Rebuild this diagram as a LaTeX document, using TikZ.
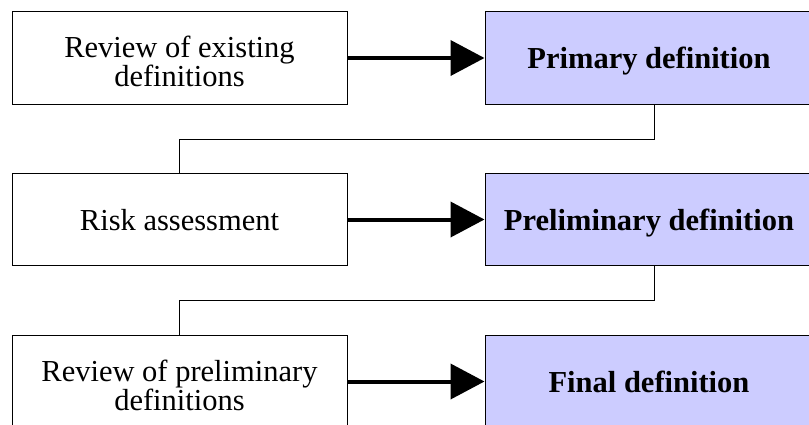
\documentclass[tikz,border=0pt]{standalone}
\usepackage{fontspec}
\setmainfont{Liberation Serif}
\usetikzlibrary{arrows.meta,calc}
\definecolor{boxblue}{HTML}{CCCCFF}
\begin{document}
\begin{tikzpicture}[x=1pt,y=-1pt,
  every node/.style={font=\fontsize{30.5}{29}\selectfont, inner sep=0pt},
  leftbox/.style={draw=black, line width=1pt, fill=white, minimum width=335pt, minimum height=92.5pt, align=center},
  rightbox/.style={draw=black, line width=1pt, fill=boxblue, minimum width=328pt, minimum height=92.5pt, font=\fontsize{30.5}{29}\selectfont\bfseries},
  oneline/.style={text height=23pt, text depth=2pt},
  flow/.style={line width=4pt, -{Triangle[length=34pt,width=35pt]}},
  link/.style={line width=1pt}
]
\useasboundingbox (0,0) rectangle (809,424);
\clip (0,0) rectangle (809,424);
\node[leftbox] (rev1) at (179.5,58) {\rule{0pt}{29pt}Review of existing\\definitions};
\node[leftbox, oneline] (risk) at (179.5,219.5) {Risk assessment};
\node[leftbox] (rev2) at (179.5,381.5) {\rule{0pt}{29pt}Review of preliminary\\definitions};
\node[rightbox, oneline] (prim) at (649,58) {Primary definition};
\node[rightbox, oneline] (prel) at (649,219.5) {Preliminary definition};
\node[rightbox, oneline] (final) at (649,381.5) {Final definition};
\draw[flow] (rev1.east) -- (prim.west);
\draw[flow] (risk.east) -- (prel.west);
\draw[flow] (rev2.east) -- (final.west);
\draw[link] ([xshift=5pt]prim.south) -- ++(0,35) -| (risk.north);
\draw[link] ([xshift=5pt]prel.south) -- ++(0,34.5) -| (rev2.north);
\end{tikzpicture}
\end{document}
